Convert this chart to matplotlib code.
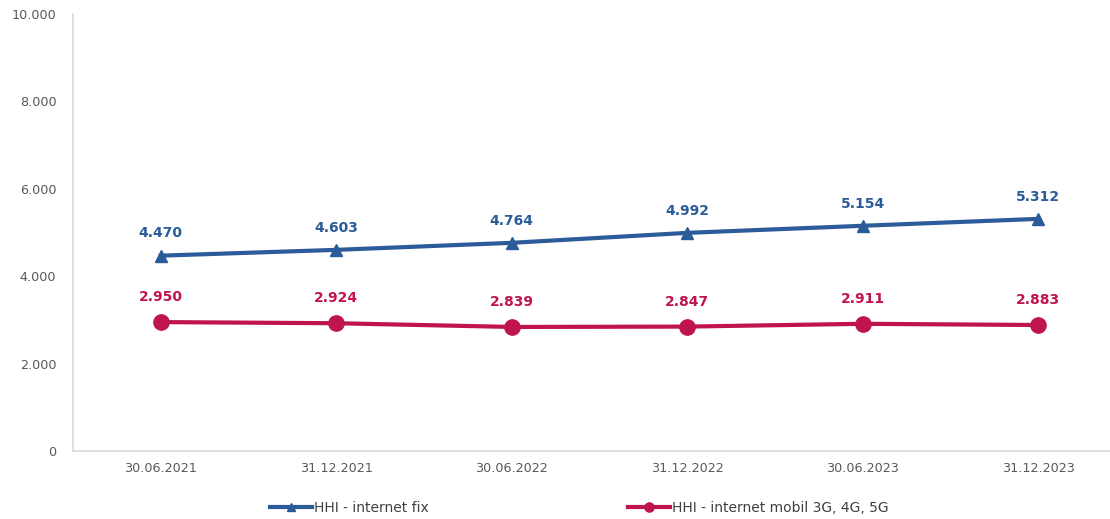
import numpy as np
import matplotlib.pyplot as plt
from matplotlib.ticker import FuncFormatter

dates = ["30.06.2021", "31.12.2021", "30.06.2022", "31.12.2022", "30.06.2023", "31.12.2023"]
hhi_fix = [4470, 4603, 4764, 4992, 5154, 5312]
hhi_mobil = [2950, 2924, 2839, 2847, 2911, 2883]

BLUE = "#2B5C99"
RED = "#C0144F"


def thousands(v, pos=None):
    return f"{v:,.0f}".replace(",", ".")


fig = plt.figure(figsize=(11.1, 5.19), dpi=100)
ax = fig.add_axes([0.0658, 0.131, 0.9486, 0.842])

x = np.arange(len(dates))
ax.plot(x, hhi_fix, color=BLUE, lw=3, marker="^", ms=9, label="HHI - internet fix")
ax.plot(x, hhi_mobil, color=RED, lw=3, marker="o", ms=11,
        label="HHI - internet mobil 3G, 4G, 5G")

for xi, v in zip(x, hhi_fix):
    ax.annotate(thousands(v), (xi, v), xytext=(0, 16), textcoords="offset points",
                ha="center", va="center", color=BLUE, fontsize=10, fontweight="bold")
for xi, v in zip(x, hhi_mobil):
    ax.annotate(thousands(v), (xi, v), xytext=(0, 18), textcoords="offset points",
                ha="center", va="center", color=RED, fontsize=10, fontweight="bold")

ax.set_xlim(-0.5, len(dates) - 0.5)
ax.set_ylim(0, 10000)
ax.set_yticks(np.arange(0, 10001, 2000))
ax.yaxis.set_major_formatter(FuncFormatter(thousands))
ax.set_xticks(x)
ax.set_xticklabels(dates)
ax.tick_params(length=0, labelsize=9.2, colors="#595959")
ax.tick_params(axis="x", pad=8)
ax.tick_params(axis="y", pad=12)

for side in ["top", "right"]:
    ax.spines[side].set_visible(False)
for side in ["left", "bottom"]:
    ax.spines[side].set_color("#D9D9D9")
    ax.spines[side].set_linewidth(1.2)

fig.legend(loc="center", bbox_to_anchor=(0.522, 0.021), ncol=2, frameon=False,
           fontsize=10, labelcolor="#404040", handlelength=3.0, handletextpad=0.15,
           columnspacing=14.4, markerscale=0.6)

fig.savefig("out.png", dpi=100)
